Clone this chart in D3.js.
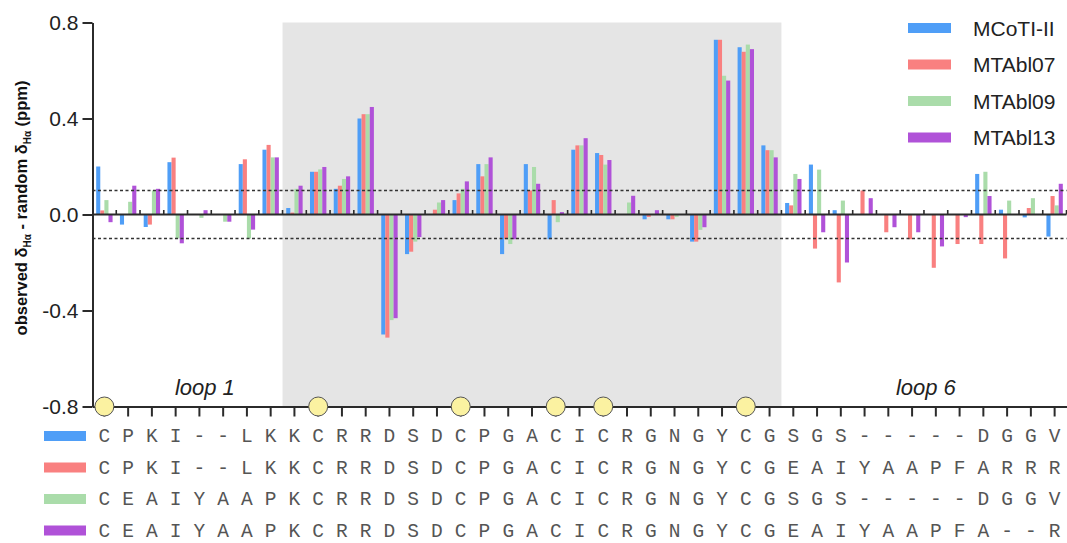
<!DOCTYPE html>
<html>
<head>
<meta charset="utf-8">
<script src="https://cdn.jsdelivr.net/npm/d3@7"></script>
<style>
  body { margin: 0; background: #fff; }
  svg { display: block; }
</style>
</head>
<body>
<svg id="chart" width="1067" height="543"></svg>
<script>
// Residue sequences (aligned, "-" = gap)
const seqMCoTI  = "C P K I - - L K K C R R D S D C P G A C I C R G N G Y C G S G S - - - - - D G G V".split(" ");
const seqMTAbl07 = "C P K I - - L K K C R R D S D C P G A C I C R G N G Y C G E A I Y A A P F A R R R".split(" ");
const seqMTAbl09 = "C E A I Y A A P K C R R D S D C P G A C I C R G N G Y C G S G S - - - - - D G G V".split(" ");
const seqMTAbl13 = "C E A I Y A A P K C R R D S D C P G A C I C R G N G Y C G E A I Y A A P F A - - R".split(" ");

// Secondary Hα shifts (ppm) per aligned position
const valMCoTI = [0.20, -0.042, -0.052, 0.218, 0, 0, 0.21, 0.27, 0.027, 0.178, 0.107, 0.40, -0.50, -0.165, 0, 0.06, 0.21, -0.165, 0.21, -0.103, 0.27, 0.256, 0, -0.02, -0.02, -0.113, 0.728, 0.697, 0.288, 0.048, 0.208, 0.018, 0, 0, 0, 0, 0, 0.169, 0.02, -0.012, -0.092];
const valMTAbl07 = [0.017, 0, -0.042, 0.237, 0, 0, 0.23, 0.29, 0.008, 0.178, 0.12, 0.418, -0.513, -0.155, 0.02, 0.088, 0.159, -0.103, 0.10, 0.06, 0.288, 0.248, 0, -0.01, -0.02, -0.113, 0.728, 0.678, 0.268, 0.038, -0.142, -0.283, 0.10, -0.074, -0.103, -0.222, -0.123, -0.123, -0.183, 0.027, 0.077];
const valMTAbl09 = [0.06, 0.053, 0.10, -0.10, -0.014, -0.03, -0.10, 0.238, 0.107, 0.188, 0.148, 0.418, -0.44, -0.113, 0.05, 0.107, 0.21, -0.123, 0.198, -0.032, 0.288, 0.208, 0.05, 0, -0.01, -0.064, 0.578, 0.708, 0.268, 0.169, 0.187, 0.058, 0, 0, 0, 0, 0, 0.178, 0.058, 0.068, 0.038];
const valMTAbl13 = [-0.032, 0.12, 0.107, -0.12, 0.018, -0.03, -0.063, 0.238, 0.12, 0.198, 0.159, 0.448, -0.432, -0.094, 0.06, 0.138, 0.238, -0.103, 0.128, 0.01, 0.318, 0.227, 0.078, 0.018, 0, -0.053, 0.558, 0.689, 0.238, 0.148, -0.074, -0.2, 0.068, -0.053, -0.074, -0.133, -0.011, 0.077, 0, 0, 0.128];

const seriesNames = ["MCoTI-II", "MTAbl07", "MTAbl09", "MTAbl13"];
const seriesColors = ["#4f9ef7", "#f98080", "#aadcaa", "#b052d8"];
const yTickValues = [0.8, 0.4, 0.0, -0.4, -0.8];
const yTickLabels = ["0.8", "0.4", "0.0", "-0.4", "-0.8"];
const thresholds = [0.1, -0.1];
const cysteinePositions = [0, 9, 15, 19, 21, 27];
const shadedPositions = [8, 28];          // first and last position of the grafted region
const loopLabels = ["loop 1", "loop 6"];
const loopCenters = [4.23, 34.58];        // in position units

const values = [valMCoTI, valMTAbl07, valMTAbl09, valMTAbl13];
const sequences = [seqMCoTI, seqMTAbl07, seqMTAbl09, seqMTAbl13];
const positions = d3.range(seqMCoTI.length);

const svg = d3.select("#chart");
const FONT = "'Liberation Sans', Arial, Helvetica, sans-serif";
const AXIS = "#2b2b2b";

const x = d3.scaleBand().domain(positions).range([92.5, 1066.5]).padding(0);
const y = d3.scaleLinear().domain([-0.8, 0.8]).range([406.5, 22.5]);
const groupW = 16.4;
const x1 = d3.scaleBand().domain(seriesNames).range([0, groupW]);
const groupOffset = (x.bandwidth() - groupW) / 2;
const xc = i => x(i) + x.bandwidth() / 2;

// shaded region
svg.append("rect")
  .attr("x", x(shadedPositions[0]))
  .attr("y", y(0.8))
  .attr("width", x(shadedPositions[1]) + x.bandwidth() - x(shadedPositions[0]))
  .attr("height", y(-0.8) - y(0.8))
  .attr("fill", "#e5e5e5");

// bars
const barData = [];
positions.forEach(i => seriesNames.forEach((s, k) => {
  barData.push({ i, s, k, v: values[k][i] });
}));
svg.append("g").selectAll("rect")
  .data(barData.filter(d => d.v !== 0))
  .join("rect")
  .attr("x", d => x(d.i) + groupOffset + x1(d.s))
  .attr("width", x1.bandwidth())
  .attr("y", d => y(Math.max(0, d.v)))
  .attr("height", d => Math.abs(y(d.v) - y(0)))
  .attr("fill", d => seriesColors[d.k]);

// ±0.1 threshold lines
svg.append("g").selectAll("line")
  .data(thresholds)
  .join("line")
  .attr("x1", x.range()[0]).attr("x2", x.range()[1])
  .attr("y1", d => y(d)).attr("y2", d => y(d))
  .attr("stroke", "#333").attr("stroke-width", 1.4)
  .attr("stroke-dasharray", "3,2.5");

// zero line with small upward ticks between residue groups
const zero = svg.append("g");
zero.append("line")
  .attr("x1", x.range()[0]).attr("x2", x.range()[1])
  .attr("y1", y(0)).attr("y2", y(0))
  .attr("stroke", AXIS).attr("stroke-width", 2);
zero.selectAll("line.sep")
  .data(positions)
  .join("line").attr("class", "sep")
  .attr("x1", i => x(i) + x.bandwidth()).attr("x2", i => x(i) + x.bandwidth())
  .attr("y1", y(0)).attr("y2", y(0) - 4.5)
  .attr("stroke", AXIS).attr("stroke-width", 1.6);

// y axis
const yAxis = svg.append("g")
  .attr("transform", `translate(${x.range()[0]},0)`)
  .call(d3.axisLeft(y).tickValues(yTickValues)
    .tickFormat((d, i) => yTickLabels[i]).tickSize(10).tickSizeOuter(0).tickPadding(4));
yAxis.select(".domain").attr("stroke", AXIS).attr("stroke-width", 2);
yAxis.selectAll(".tick line").attr("stroke", AXIS).attr("stroke-width", 2);
yAxis.selectAll(".tick text").attr("fill", "#222").style("font", `21px ${FONT}`);

// bottom axis
const xAxis = svg.append("g")
  .attr("transform", `translate(0,${y(-0.8)})`)
  .call(d3.axisBottom(x).tickFormat("").tickSize(10).tickSizeOuter(0));
xAxis.select(".domain").attr("stroke", AXIS).attr("stroke-width", 2);
xAxis.selectAll(".tick line").attr("stroke", AXIS).attr("stroke-width", 2);

// cysteine markers
svg.append("g").selectAll("circle")
  .data(cysteinePositions)
  .join("circle")
  .attr("cx", d => xc(d)).attr("cy", y(-0.8)).attr("r", 9.5)
  .attr("fill", "#fbf2a1").attr("stroke", "#555").attr("stroke-width", 1);

// loop labels
svg.append("g").selectAll("text")
  .data(loopLabels)
  .join("text")
  .attr("x", (d, i) => x(0) + x.bandwidth() / 2 + loopCenters[i] * x.step())
  .attr("y", 395)
  .attr("text-anchor", "middle")
  .attr("fill", "#222")
  .style("font", `italic 22px ${FONT}`)
  .text(d => d);

// y axis title
const title = svg.append("text")
  .attr("transform", "translate(27,208) rotate(-90)")
  .attr("text-anchor", "middle")
  .attr("fill", "#111")
  .style("font", `bold 16.5px ${FONT}`);
title.append("tspan").text("observed δ");
title.append("tspan").attr("dy", 4).style("font-size", "10px").text("Hα");
title.append("tspan").attr("dy", -4).text(" - random δ");
title.append("tspan").attr("dy", 4).style("font-size", "10px").text("Hα");
title.append("tspan").attr("dy", -4).text(" (ppm)");

// legend
const legend = svg.append("g").selectAll("g")
  .data(seriesNames)
  .join("g")
  .attr("transform", (d, i) => `translate(908,${28 + i * 36.5})`);
legend.append("rect")
  .attr("x", 0).attr("y", -5).attr("width", 43).attr("height", 10)
  .attr("fill", (d, i) => seriesColors[i]);
legend.append("text")
  .attr("x", 65).attr("y", 7.5)
  .attr("fill", "#222")
  .style("font", `21px ${FONT}`)
  .text(d => d);

// aligned sequences under the axis
const rowY = [436, 467.5, 499, 530.5];
const rows = svg.append("g").selectAll("g")
  .data(sequences)
  .join("g")
  .attr("transform", (d, k) => `translate(0,${rowY[k]})`);
rows.append("rect")
  .attr("x", 44).attr("y", -5).attr("width", 42).attr("height", 10)
  .attr("fill", (d, k) => seriesColors[k]);
rows.selectAll("text")
  .data(d => d)
  .join("text")
  .attr("x", (d, i) => xc(i))
  .attr("y", 6)
  .attr("text-anchor", "middle")
  .attr("fill", "#555")
  .style("font", "19.5px 'Liberation Mono', 'Courier New', monospace")
  .text(d => d);
</script>
</body>
</html>
